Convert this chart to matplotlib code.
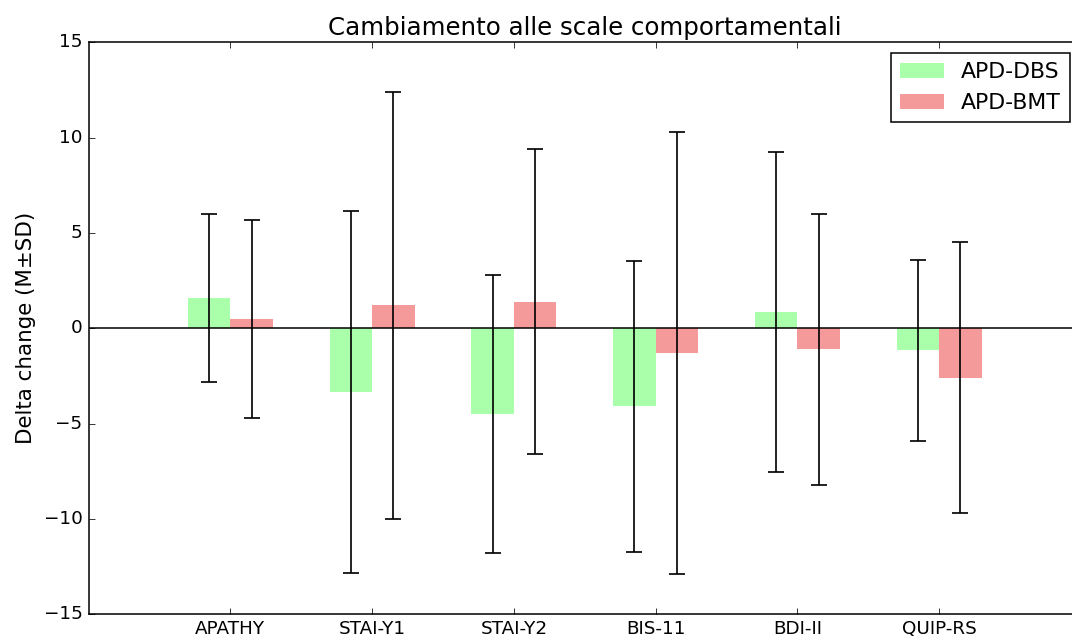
import numpy as np
import matplotlib
matplotlib.use("Agg")
import matplotlib.pyplot as plt

# Behavioural scale change, mean and SD per group
scales = ["APATHY", "STAI-Y1", "STAI-Y2", "BIS-11", "BDI-II", "QUIP-RS"]
dbs_mean = [1.6, -3.35, -4.5, -4.1, 0.85, -1.15]
dbs_sd = [4.4, 9.5, 7.3, 7.65, 8.4, 4.75]
bmt_mean = [0.5, 1.2, 1.4, -1.3, -1.1, -2.6]
bmt_sd = [5.2, 11.2, 8.0, 11.6, 7.1, 7.1]

plt.style.use("classic")

DPI = 110
fig = plt.figure(figsize=(1072 / DPI, 639 / DPI), dpi=DPI)
fig.patch.set_facecolor("white")
# the original figure is cropped on the right, so the axes run past the edge
ax = fig.add_axes([88.5 / 1072, (639 - 614.3) / 639,
                   (1081 - 88.5) / 1072, (614.3 - 42.3) / 639])

x = np.arange(len(scales))
width = 0.3

ax.bar(x - width, dbs_mean, width, align="edge", color="#aaffaa",
       edgecolor="none", label="APD-DBS")
ax.bar(x, bmt_mean, width, align="edge", color="#f49a9a",
       edgecolor="none", label="APD-BMT")
ax.errorbar(x - width / 2, dbs_mean, yerr=dbs_sd, fmt="none", ecolor="black",
            elinewidth=1.1, capsize=5.3, capthick=1.1)
ax.errorbar(x + width / 2, bmt_mean, yerr=bmt_sd, fmt="none", ecolor="black",
            elinewidth=1.1, capsize=5.3, capthick=1.1)
ax.axhline(0, color="black", linewidth=1)

ax.set_xlim(-1, 6)
ax.set_ylim(-15, 15)
ax.set_xticks(x)
ax.set_xticklabels(scales, fontsize=12)
ax.set_yticks([-15, -10, -5, 0, 5, 10, 15])
ax.tick_params(axis="y", labelsize=12)

ax.set_ylabel("Delta change (M\u00b1SD)", fontsize=14)
ax.set_title("Cambiamento alle scale comportamentali", fontsize=16)

ax.legend(loc="upper right", fontsize=14.4, borderaxespad=0.5)

fig.savefig("out.png", dpi=DPI, facecolor="white")
